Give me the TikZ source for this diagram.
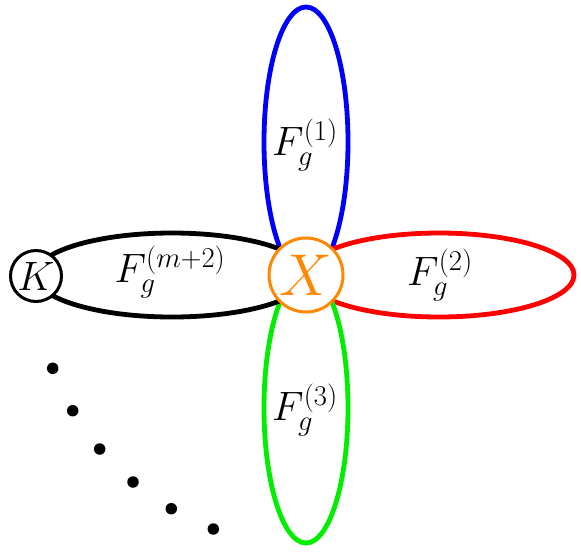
\RequirePackage{fix-cm}
\documentclass[tikz,border=0pt]{standalone}
\usepackage{amsmath}
\definecolor{xorange}{RGB}{255,136,0}
\definecolor{fblue}{RGB}{0,0,255}
\definecolor{fred}{RGB}{255,0,0}
\definecolor{fgreen}{RGB}{0,238,0}
\begin{document}
\begin{tikzpicture}[x=1pt,y=-1pt,
  loopline/.style={line width=4.8pt},
  vertex/.style={circle,draw,fill=white,line width=3pt,inner sep=0pt},
  lbl/.style={font=\fontsize{41}{49}\selectfont,inner sep=0pt},
  dotnode/.style={circle,fill=black,inner sep=0pt,minimum size=11.5pt}]
\useasboundingbox (0,0) rectangle (581,555);
\coordinate (cb) at (306,142);
\coordinate (cr) at (439,275);
\coordinate (cg) at (306,408);
\coordinate (ck) at (172,275);
\draw[loopline,fblue] (cb) ellipse [x radius=42, y radius=135];
\draw[loopline,fred] (cr) ellipse [x radius=135, y radius=42];
\draw[loopline,fgreen] (cg) ellipse [x radius=42, y radius=135];
\draw[loopline,black] (ck) ellipse [x radius=137, y radius=42];
\node[vertex,draw=xorange,minimum size=74pt,text=xorange,font=\fontsize{59}{70}\selectfont] (X) at (306,275) {$X$};
\node[vertex,draw=black,minimum size=51pt,font=\fontsize{41}{49}\selectfont] (K) at (36,276) {$K$};
\node[lbl] (f1) at (305,145) {$F_g^{(1)}$};
\node[lbl] (f2) at (440,275) {$F_g^{(2)}$};
\node[lbl] (f3) at (305,410) {$F_g^{(3)}$};
\node[lbl] (fm) at (170,272) {$F_g^{(m+2)}$};
\node[dotnode] (d1) at (52.7,368.3) {};
\node[dotnode] (d2) at (72.7,410.7) {};
\node[dotnode] (d3) at (99.7,449) {};
\node[dotnode] (d4) at (133,482) {};
\node[dotnode] (d5) at (171.3,508.7) {};
\node[dotnode] (d6) at (213.3,529) {};
\end{tikzpicture}
\end{document}
